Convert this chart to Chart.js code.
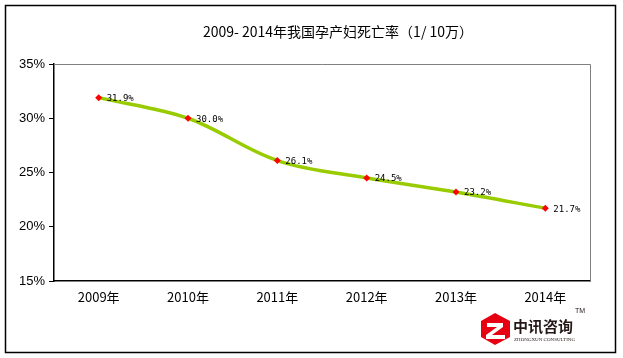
<!DOCTYPE html>
<html>
<head>
<meta charset="utf-8">
<script src="https://cdn.jsdelivr.net/npm/chart.js@4/dist/chart.umd.min.js"></script>
<style>
  html, body { margin: 0; padding: 0; background: #fff; }
  #wrap { width: 623px; height: 358px; position: relative; }
</style>
</head>
<body>
<div id="wrap"><canvas id="chart" width="623" height="358"></canvas></div>
<script>
// 2009-2014 maternal mortality chart

const TITLE = '2009- 2014年我国孕产妇死亡率（1/ 10万）';
const years = ['2009年', '2010年', '2011年', '2012年', '2013年', '2014年'];
const rates = [31.9, 30.0, 26.1, 24.5, 23.2, 21.7];
const yTicks = [15, 20, 25, 30, 35];

const CJK = '"Noto Sans CJK SC", "DejaVu Sans", sans-serif';

// frame, title, top/right plot border, value labels, logo
const decorPlugin = {
  id: 'decor',
  beforeDraw(chart) {
    const ctx = chart.ctx;
    ctx.save();
    ctx.fillStyle = '#fff';
    ctx.fillRect(0, 0, chart.width, chart.height);
    ctx.restore();
  },
  afterDraw(chart) {
    const ctx = chart.ctx;
    const a = chart.chartArea;
    ctx.save();

    // outer frame
    ctx.strokeStyle = '#000';
    ctx.lineWidth = 1.5;
    ctx.strokeRect(5.5, 5.5, 610, 347);

    // plot box top/right in gray
    ctx.strokeStyle = '#808080';
    ctx.lineWidth = 1;
    ctx.beginPath();
    ctx.moveTo(a.left, a.top + 0.5);
    ctx.lineTo(a.right + 0.5, a.top + 0.5);
    ctx.lineTo(a.right + 0.5, a.bottom);
    ctx.stroke();

    // title
    ctx.fillStyle = '#000';
    ctx.font = '14px ' + CJK;
    ctx.textAlign = 'center';
    ctx.textBaseline = 'middle';
    ctx.fillText(TITLE, 338, 32);

    // value labels
    const meta = chart.getDatasetMeta(0);
    ctx.font = '9px "DejaVu Sans Mono", monospace';
    ctx.textAlign = 'left';
    ctx.fillStyle = '#000';
    meta.data.forEach((pt, i) => {
      ctx.fillText(rates[i].toFixed(1) + '%', pt.x + 8, pt.y + 1);
    });

    // logo
    ctx.fillStyle = '#e60012';
    ctx.beginPath();
    ctx.moveTo(495, 313);
    ctx.lineTo(510, 321);
    ctx.lineTo(510, 337);
    ctx.lineTo(495, 345);
    ctx.lineTo(481, 337);
    ctx.lineTo(481, 321);
    ctx.closePath();
    ctx.fill();
    ctx.fillStyle = '#fff';
    ctx.beginPath();
    ctx.moveTo(487, 323);
    ctx.lineTo(503, 323);
    ctx.lineTo(503, 327);
    ctx.lineTo(492, 335);
    ctx.lineTo(505, 335);
    ctx.lineTo(505, 339);
    ctx.lineTo(486, 339);
    ctx.lineTo(486, 335);
    ctx.lineTo(497, 327);
    ctx.lineTo(487, 327);
    ctx.closePath();
    ctx.fill();

    ctx.fillStyle = '#231815';
    ctx.font = 'bold 15px ' + CJK;
    ctx.textAlign = 'left';
    ctx.textBaseline = 'middle';
    ctx.fillText('中讯咨询', 513, 326);
    ctx.font = '5px "Liberation Serif", serif';
    ctx.fillText('ZHONGXUN CONSULTING', 514, 340);
    ctx.font = '7px "Liberation Sans", sans-serif';
    ctx.fillText('TM', 575, 311);

    ctx.restore();
  }
};

new Chart(document.getElementById('chart'), {
  type: 'line',
  data: {
    labels: years,
    datasets: [{
      data: rates,
      borderColor: '#99cc00',
      borderWidth: 3.5,
      tension: 0.35,
      pointStyle: 'rectRot',
      pointRadius: 3.5,
      pointBackgroundColor: '#ff0000',
      pointBorderColor: '#ff0000',
      pointBorderWidth: 0,
      fill: false
    }]
  },
  options: {
    responsive: false,
    animation: false,
    devicePixelRatio: 1,
    layout: { padding: { left: 0, right: 33, top: 64, bottom: 0 } },
    plugins: {
      legend: { display: false },
      tooltip: { enabled: false }
    },
    scales: {
      x: {
        offset: true,
        grid: { display: false, drawTicks: false },
        border: { color: '#000', width: 1.5 },
        ticks: {
          color: '#000',
          font: { family: CJK, size: 13 },
          padding: 8,
          maxRotation: 0
        },
        afterFit(scale) { scale.height = 77; }
      },
      y: {
        min: 15,
        max: 35,
        afterBuildTicks(scale) { scale.ticks = yTicks.map(v => ({ value: v })); },
        grid: { display: true, drawOnChartArea: false, drawTicks: true, tickLength: 5, color: '#000' },
        border: { color: '#000', width: 1.5 },
        ticks: {
          color: '#000',
          font: { family: '"Liberation Sans", Arial, sans-serif', size: 13 },
          padding: 4,
          callback: v => v + '%'
        },
        afterFit(scale) { scale.width = 54; }
      }
    }
  },
  plugins: [decorPlugin]
});
</script>
</body>
</html>
